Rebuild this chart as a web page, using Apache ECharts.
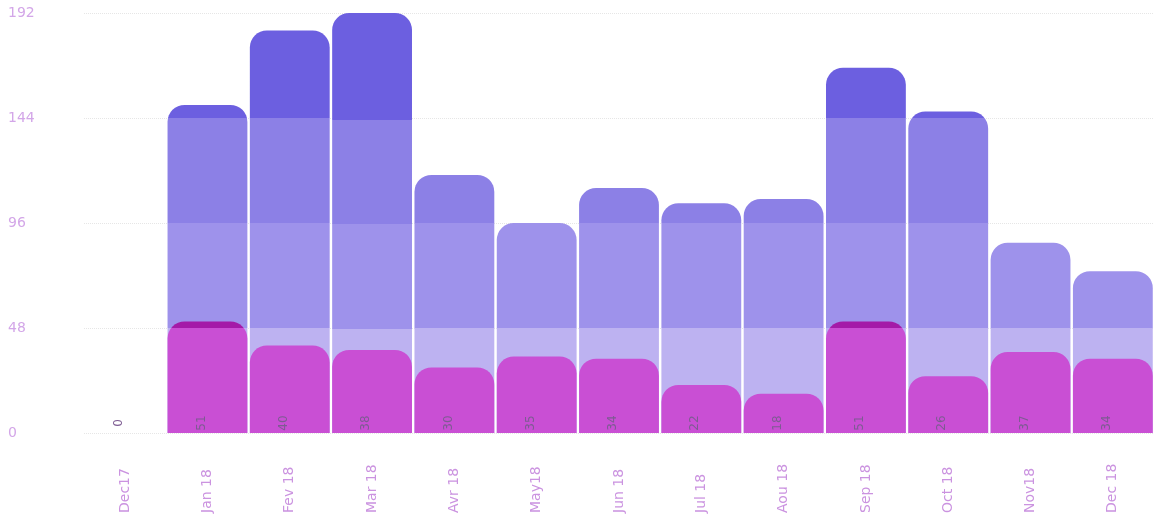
<!DOCTYPE html>
<html>
<head>
<meta charset="utf-8">
<style>
  html, body { margin: 0; padding: 0; background: #ffffff; }
  #chart { width: 1158px; height: 524px; }
</style>
<script src="https://cdn.jsdelivr.net/npm/echarts@6/dist/echarts.min.js"></script>
</head>
<body>
<div id="chart"></div>
<script>
var months = ["Dec17", "Jan 18", "Fev 18", "Mar 18", "Avr 18", "May18", "Jun 18",
              "Jul 18", "Aou 18", "Sep 18", "Oct 18", "Nov18", "Dec 18"];
var totalValues = [0, 150, 184, 193, 118, 96, 112, 105, 107, 167, 147, 87, 74];
var pinkValues = [0, 51, 40, 38, 30, 35, 34, 22, 18, 51, 26, 37, 34];
var yTicks = [0, 48, 96, 144, 192];

// colour for each band between the y ticks, bottom band first
var blueBands = ["#bdb2f1", "#9e92eb", "#8c80e6", "#6c5fe0"];
var pinkBands = ["#c94fd4", "#a41aa8", "#a41aa8", "#a41aa8"];

// builds a hard-stop vertical gradient so the bar shows the tick bands
function bandColor(value, colors) {
    if (!value) return colors[0];
    var stops = [];
    var top = 0;
    for (var i = yTicks.length - 2; i >= 0; i--) {
        var lo = yTicks[i];
        if (value <= lo) continue;
        var bottom = i === 0 ? 1 : (value - lo) / value;
        stops.push({ offset: top, color: colors[i] });
        stops.push({ offset: bottom, color: colors[i] });
        top = bottom;
    }
    return new echarts.graphic.LinearGradient(0, 0, 0, 1, stops);
}

function toItems(values, colors) {
    return values.map(function (v) {
        return { value: v, itemStyle: { color: bandColor(v, colors) } };
    });
}

var chart = echarts.init(document.getElementById("chart"));
chart.setOption({
    animation: false,
    grid: { left: 84, right: 4, top: 13, bottom: 91 },
    xAxis: {
        type: "category",
        data: months,
        axisLine: { show: false },
        axisTick: { show: false },
        axisLabel: {
            rotate: 90,
            align: "left",
            margin: 80,
            color: "#cb93e0",
            fontFamily: "DejaVu Sans",
            fontSize: 14
        }
    },
    yAxis: {
        type: "value",
        min: 0,
        max: 192,
        interval: 48,
        axisLine: { show: false },
        axisTick: { show: false },
        axisLabel: {
            align: "left",
            margin: 76,
            color: "#d3a6e8",
            fontFamily: "DejaVu Sans",
            fontSize: 14
        },
        splitLine: { lineStyle: { color: "#e6e6e6", type: "dotted" } }
    },
    series: [
        {
            type: "bar",
            data: toItems(totalValues, blueBands),
            barCategoryGap: "3%",
            itemStyle: { borderRadius: [17, 17, 0, 0] }
        },
        {
            type: "bar",
            data: toItems(pinkValues, pinkBands),
            barGap: "-100%",
            itemStyle: { borderRadius: [17, 17, 0, 0] },
            label: {
                show: true,
                position: "insideBottom",
                rotate: 90,
                distance: 10,
                color: "#7d5b92",
                fontFamily: "DejaVu Sans",
                fontSize: 12
            }
        }
    ]
});

window.addEventListener("resize", function () {
    chart.resize();
});
</script>
</body>
</html>
